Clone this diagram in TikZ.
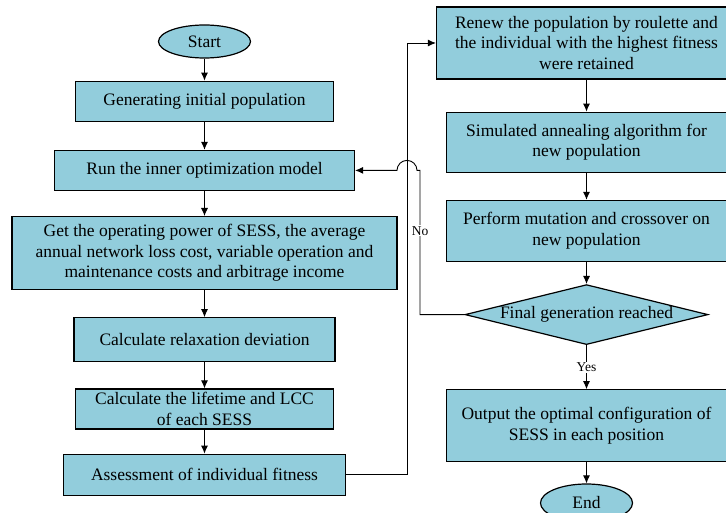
\documentclass[tikz,border=0pt]{standalone}
\usepackage{fontspec}
\setmainfont{Liberation Serif}
\usetikzlibrary{%
  arrows.meta,%
  shapes.geometric,% ellipse, diamond
  positioning% wg. below=of
}
\definecolor{boxblue}{HTML}{92CDDC}

\begin{document}
\begin{tikzpicture}[x=1pt, y=-1pt, ->, >={Latex[length=8pt,width=7pt]}, line width=0.9pt,
    every node/.style={font=\fontsize{17.5}{20.5}\selectfont},
    procbox/.style={draw, fill=boxblue, line width=1.2pt, align=center, inner sep=1pt, minimum height=40pt},
    termbox/.style={ellipse, draw, fill=boxblue, line width=1.2pt, inner sep=0pt, minimum width=92pt, minimum height=33pt},
    decbox/.style={diamond, draw, fill=boxblue, line width=1.2pt, inner sep=0pt, aspect=4, minimum width=243pt, minimum height=60pt},
    lbl/.style={fill=white, inner sep=1pt, font=\fontsize{13.5}{15}\selectfont}]
    \useasboundingbox (0,0) rectangle (726,513);

    %left column
    \node[termbox] (start) at (204.5,41.5) {Start};
    \node[procbox, minimum width=258pt] (geninit) [below=22pt of start] {Generating initial population};
    \node[procbox, minimum width=300pt] (runinner) [below=28pt of geninit] {Run the inner optimization model};
    \node[procbox, minimum width=385pt, minimum height=73pt] (getpower) [below=25pt of runinner] {Get the operating power of SESS, the average\\ annual network loss cost, variable operation and\\ maintenance costs and arbitrage income};
    \node[procbox, minimum width=261pt, minimum height=44pt] (relaxdev) [below=27pt of getpower] {Calculate relaxation deviation};
    \node[procbox, minimum width=258pt] (lifelcc) [below=26pt of relaxdev] {Calculate the lifetime and LCC\\ of each SESS};
    \node[procbox, minimum width=282pt, minimum height=41pt] (assessfit) [below=24pt of lifelcc] {Assessment of individual fitness};

    %right column
    \node[procbox, minimum width=300pt, minimum height=72pt] (renewpop) at (586.5,43) {Renew the population by roulette and\\ the individual with the highest fitness\\ were retained};
    \node[procbox, minimum width=280pt, minimum height=60pt] (simanneal) [below=32pt of renewpop] {Simulated annealing algorithm for\\ new population};
    \node[procbox, minimum width=280pt, minimum height=61pt] (mutcross) [below=27pt of simanneal] {Perform mutation and crossover on\\ new population};
    \node[decbox] (finalgen) [below=22pt of mutcross] {Final generation reached};
    \node[procbox, minimum width=280pt, minimum height=72pt] (outconf) [below=44pt of finalgen] {Output the optimal configuration of\\ SESS in each position};
    \node[termbox, minimum height=38pt] (finish) [below=21pt of outconf] {End};

    %helper columns of the loops
    \coordinate (fbx) at (407,0);
    \coordinate (nox) at (420,0);

    \path[->]
     (start) edge (geninit)
     (geninit) edge (runinner)
     (runinner) edge (getpower)
     (getpower) edge (relaxdev)
     (relaxdev) edge (lifelcc)
     (lifelcc) edge (assessfit)
     (renewpop) edge (simanneal)
     (simanneal) edge (mutcross)
     (mutcross) edge (finalgen)
     (finalgen) edge node[lbl] {Yes} (outconf)
     (outconf) edge (finish);

    \draw[->] (assessfit.east) -| (fbx |- renewpop.west) -- (renewpop.west);
    \draw[->] (finalgen.west) -| node[lbl, pos=0.79] {No} (nox |- runinner.east) -- ++(-3,0)
      arc[start angle=0, end angle=180, radius=10pt] -- (runinner.east);
\end{tikzpicture}
\end{document}
